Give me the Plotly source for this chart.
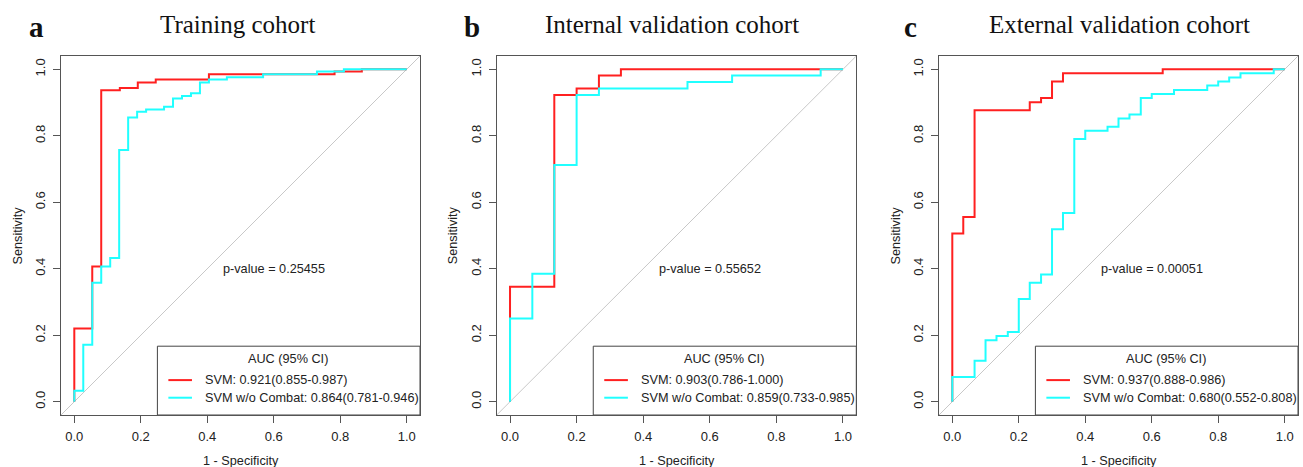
import plotly.graph_objects as go

W, H = 1303, 467

# ---------------- data (1 - specificity, sensitivity) step corners ----------------
panel_titles = ["Training cohort", "Internal validation cohort", "External validation cohort"]
panel_letters = ["a", "b", "c"]
p_values = ["p-value = 0.25455", "p-value = 0.55652", "p-value = 0.00051"]
legend_svm = ["SVM: 0.921(0.855-0.987)", "SVM: 0.903(0.786-1.000)", "SVM: 0.937(0.888-0.986)"]
legend_nocombat = ["SVM w/o Combat: 0.864(0.781-0.946)", "SVM w/o Combat: 0.859(0.733-0.985)",
                   "SVM w/o Combat: 0.680(0.552-0.808)"]

train_svm_fpr = [0, 0.054, 0.081, 0.137, 0.191, 0.245, 0.405, 0.783, 0.865, 1.0]
train_svm_tpr = [0, 0.220, 0.407, 0.937, 0.944, 0.960, 0.969, 0.985, 0.993, 1.0]
train_nc_fpr = [0, 0.027, 0.054, 0.081, 0.108, 0.135, 0.162, 0.189, 0.216, 0.270, 0.297,
                0.324, 0.351, 0.378, 0.405, 0.459, 0.568, 0.730, 0.811, 1.0]
train_nc_tpr = [0, 0.033, 0.171, 0.358, 0.407, 0.432, 0.757, 0.855, 0.872, 0.879, 0.887,
                0.912, 0.920, 0.928, 0.960, 0.969, 0.976, 0.985, 0.993, 1.0]

int_svm_fpr = [0, 0.133, 0.200, 0.267, 0.333, 1.0]
int_svm_tpr = [0, 0.346, 0.923, 0.942, 0.981, 1.0]
int_nc_fpr = [0, 0.067, 0.133, 0.200, 0.267, 0.533, 0.667, 0.933, 1.0]
int_nc_tpr = [0, 0.250, 0.385, 0.712, 0.923, 0.942, 0.962, 0.981, 1.0]

ext_svm_fpr = [0, 0.033, 0.067, 0.233, 0.267, 0.300, 0.333, 0.633, 1.0]
ext_svm_tpr = [0, 0.506, 0.556, 0.877, 0.901, 0.914, 0.963, 0.988, 1.0]
ext_nc_fpr = [0, 0.067, 0.100, 0.133, 0.167, 0.200, 0.233, 0.267, 0.300, 0.333, 0.367,
              0.400, 0.467, 0.500, 0.533, 0.567, 0.600, 0.667, 0.767, 0.800, 0.833,
              0.867, 0.967, 1.0]
ext_nc_tpr = [0, 0.074, 0.123, 0.185, 0.198, 0.210, 0.309, 0.358, 0.383, 0.519, 0.568,
              0.790, 0.815, 0.827, 0.852, 0.864, 0.914, 0.926, 0.938, 0.951, 0.963,
              0.975, 0.988, 1.0]

tick_vals = [0, 0.2, 0.4, 0.6, 0.8, 1.0]
tick_text = ["0.0", "0.2", "0.4", "0.6", "0.8", "1.0"]

curves = [
    (train_svm_fpr, train_svm_tpr, train_nc_fpr, train_nc_tpr),
    (int_svm_fpr, int_svm_tpr, int_nc_fpr, int_nc_tpr),
    (ext_svm_fpr, ext_svm_tpr, ext_nc_fpr, ext_nc_tpr),
]

# ---------------- layout ----------------
RED = "#FF2020"
CYAN = "#20FFFF"
FRAME = "#555555"
TXT = "#222222"
SANS = "Liberation Sans, Arial, sans-serif"
SERIF = "Liberation Serif, Times New Roman, serif"
FS = 12.7

x_px = [(61, 420), (496.7, 856.3), (939, 1298)]
y_px = (56, 415)
title_x_px = [237, 672, 1119]
letter_x_px = [36, 472, 911]

fig = go.Figure()
layout = dict(
    width=W, height=H, autosize=False,
    margin=dict(l=0, r=0, t=0, b=0),
    paper_bgcolor="white", plot_bgcolor="white",
    showlegend=False,
    font=dict(family=SANS, size=FS, color=TXT),
)
annotations = []
shapes = []
R = [-0.04, 1.04]

for i in range(3):
    sfx = "" if i == 0 else str(i + 1)
    xa, ya = "x" + sfx, "y" + sfx
    sfx_fpr, sfx_tpr, nc_fpr, nc_tpr = curves[i]

    # diagonal reference
    fig.add_trace(go.Scatter(x=R, y=R, mode="lines", line=dict(color="#C8C8C8", width=1),
                             xaxis=xa, yaxis=ya, hoverinfo="skip"))
    fig.add_trace(go.Scatter(x=sfx_fpr, y=sfx_tpr, mode="lines", line=dict(color=RED, width=2, shape="vh"),
                             xaxis=xa, yaxis=ya, name="SVM"))
    fig.add_trace(go.Scatter(x=nc_fpr, y=nc_tpr, mode="lines", line=dict(color=CYAN, width=2, shape="vh"),
                             xaxis=xa, yaxis=ya, name="SVM w/o Combat"))

    axcommon = dict(range=R, showgrid=False, zeroline=False, showline=True, mirror=True,
                    linecolor=FRAME, linewidth=1, ticks="outside", ticklen=7, tickwidth=1,
                    tickcolor=FRAME, tickvals=tick_vals, ticktext=tick_text,
                    tickfont=dict(family=SANS, size=13, color=TXT))
    layout["xaxis" + sfx] = dict(axcommon, domain=[x_px[i][0] / W, x_px[i][1] / W], anchor=ya,
                                 ticklabelstandoff=2)
    layout["yaxis" + sfx] = dict(axcommon, domain=[1 - y_px[1] / H, 1 - y_px[0] / H], anchor=xa,
                                 tickangle=-90, ticklabelstandoff=3)

    # titles
    annotations.append(dict(x=title_x_px[i] / W, y=1 - 25 / H, xref="paper", yref="paper",
                            text=panel_titles[i], showarrow=False, xanchor="center", yanchor="middle",
                            font=dict(family=SERIF, size=25, color="#111111")))
    annotations.append(dict(x=letter_x_px[i] / W, y=1 - 27 / H, xref="paper", yref="paper",
                            text="<b>" + panel_letters[i] + "</b>", showarrow=False,
                            xanchor="center", yanchor="middle",
                            font=dict(family=SERIF, size=29, color="#111111")))
    # axis titles
    cx = (x_px[i][0] + x_px[i][1]) / 2 / W
    annotations.append(dict(x=cx, y=1 - 461 / H, xref="paper", yref="paper", text="1 - Specificity",
                            showarrow=False, xanchor="center", yanchor="middle",
                            font=dict(family=SANS, size=FS, color=TXT)))
    annotations.append(dict(x=(x_px[i][0] - 44) / W, y=1 - 235.5 / H, xref="paper", yref="paper",
                            text="Sensitivity", showarrow=False, textangle=-90,
                            xanchor="center", yanchor="middle",
                            font=dict(family=SANS, size=FS, color=TXT)))
    # p-value
    annotations.append(dict(x=0.6, y=0.4, xref=xa, yref=ya, text=p_values[i], showarrow=False,
                            xanchor="center", yanchor="middle",
                            font=dict(family=SANS, size=FS, color=TXT)))
    # legend box
    shapes.append(dict(type="rect", xref=xa, yref=ya, x0=0.25, x1=1.04, y0=-0.04, y1=0.167,
                       line=dict(color="#444444", width=1), fillcolor="rgba(0,0,0,0)"))
    annotations.append(dict(x=0.644, y=0.127, xref=xa, yref=ya, text="AUC (95% CI)", showarrow=False,
                            xanchor="center", yanchor="middle",
                            font=dict(family=SANS, size=FS, color=TXT)))
    for yy, col, txt in [(0.065, RED, legend_svm[i]), (0.012, CYAN, legend_nocombat[i])]:
        shapes.append(dict(type="line", xref=xa, yref=ya, x0=0.283, x1=0.354, y0=yy, y1=yy,
                           line=dict(color=col, width=2)))
        annotations.append(dict(x=0.387, y=yy, xref=xa, yref=ya, text=txt, showarrow=False,
                                xanchor="left", yanchor="middle",
                                font=dict(family=SANS, size=FS, color=TXT)))

layout["annotations"] = annotations
layout["shapes"] = shapes
fig.update_layout(**layout)
fig.write_html("out.html")
